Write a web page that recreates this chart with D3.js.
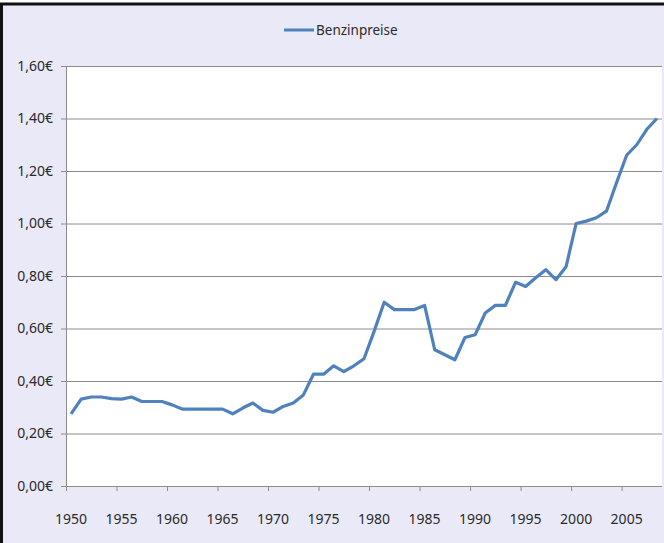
<!DOCTYPE html>
<html lang="de">
  <head>
    <meta charset="utf-8">
    <script src="https://d3js.org/d3.v7.min.js"></script>
    <style>
      body {margin: 0; background: white;}
      text {font-family: "Noto Sans", sans-serif; fill: #2a2a2a;}
    </style>
  </head>
  <body>
    <script type="text/javascript">
      // years and petrol prices in euro
      const years = d3.range(1950, 2009);
      const prices = [
        0.275, 0.331, 0.339, 0.339, 0.333, 0.331, 0.339, 0.322, 0.322, 0.322,
        0.309, 0.293, 0.293, 0.293, 0.293, 0.293, 0.275, 0.297, 0.316, 0.288,
        0.281, 0.303, 0.316, 0.347, 0.426, 0.426, 0.458, 0.436, 0.458, 0.485,
        0.589, 0.700, 0.672, 0.672, 0.672, 0.688, 0.519, 0.500, 0.481, 0.566,
        0.576, 0.659, 0.688, 0.688, 0.776, 0.760, 0.793, 0.824, 0.786, 0.835,
        1.000, 1.009, 1.022, 1.047, 1.155, 1.260, 1.300, 1.359, 1.400
      ];
      const yTicks = [0, 0.2, 0.4, 0.6, 0.8, 1.0, 1.2, 1.4, 1.6];
      const seriesName = "Benzinpreise";

      const w = 664;
      const h = 543;
      const plotLeft = 66, plotRight = 662, plotTop = 66, plotBottom = 486;

      var svg = d3.select("body")
            .append("svg")
            .attr("width", w)
            .attr("height", h);

      // background and frame
      svg.append("rect")
          .attr("x", 0).attr("y", 3)
          .attr("width", w).attr("height", h)
          .attr("fill", "#eae9f8");
      svg.append("line")
          .attr("x1", 0).attr("x2", w).attr("y1", 4).attr("y2", 4)
          .attr("stroke", "#111").attr("stroke-width", 3);
      svg.append("line")
          .attr("x1", 1.5).attr("x2", 1.5).attr("y1", 3).attr("y2", h)
          .attr("stroke", "#111").attr("stroke-width", 3);

      // plot area
      svg.append("rect")
          .attr("x", plotLeft).attr("y", plotTop)
          .attr("width", plotRight - plotLeft).attr("height", plotBottom - plotTop)
          .attr("fill", "white");

      // scales
      var xScale = d3.scaleBand()
                .domain(years)
                .range([plotLeft, plotRight]);
      var yScale = d3.scaleLinear()
                .domain([0, 1.6])
                .range([plotBottom, plotTop]);

      var fmt = function(d) { return d3.format(".2f")(d).replace(".", ",") + "€"; };

      // y axis with gridlines
      var yAxis = d3.axisLeft(yScale)
            .tickValues(yTicks)
            .tickSize(-(plotRight - plotLeft))
            .tickFormat(fmt);
      var gy = svg.append("g")
          .attr("transform", "translate(" + plotLeft + ",0)")
          .call(yAxis);
      gy.select(".domain").remove();
      gy.selectAll(".tick line")
          .attr("x1", -5)
          .attr("stroke", "#8c8c8c");
      gy.selectAll(".tick text")
          .attr("x", -13)
          .attr("font-size", 14);
      svg.append("line")
          .attr("x1", plotLeft + 0.5).attr("x2", plotLeft + 0.5)
          .attr("y1", plotTop).attr("y2", plotBottom)
          .attr("stroke", "#8c8c8c");

      // x axis: ticks on category boundaries, labels at centres
      var labelYears = years.filter(function(d) { return d % 5 === 0; });
      var gx = svg.append("g");
      gx.append("line")
          .attr("x1", plotLeft).attr("x2", plotRight)
          .attr("y1", plotBottom + 0.5).attr("y2", plotBottom + 0.5)
          .attr("stroke", "#8c8c8c");
      gx.selectAll(".xtick")
          .data(labelYears)
          .enter()
          .append("line")
          .attr("x1", function(d) { return xScale(d) + 0.5; })
          .attr("x2", function(d) { return xScale(d) + 0.5; })
          .attr("y1", plotBottom).attr("y2", plotBottom + 5)
          .attr("stroke", "#8c8c8c");
      gx.selectAll(".xlabel")
          .data(labelYears)
          .enter()
          .append("text")
          .attr("x", function(d) { return xScale(d) + xScale.bandwidth() / 2; })
          .attr("y", plotBottom + 38)
          .attr("text-anchor", "middle")
          .attr("font-size", 14)
          .text(function(d) { return d; });

      // price line
      var line = d3.line()
            .x(function(d, i) { return xScale(years[i]) + xScale.bandwidth() / 2; })
            .y(function(d) { return yScale(d); });
      svg.append("path")
          .datum(prices)
          .attr("d", line)
          .attr("fill", "none")
          .attr("stroke", "#4f81bd")
          .attr("stroke-width", 3.2)
          .attr("stroke-linejoin", "round");

      // legend
      svg.append("line")
          .attr("x1", 284).attr("x2", 314)
          .attr("y1", 30).attr("y2", 30)
          .attr("stroke", "#4f81bd")
          .attr("stroke-width", 3);
      svg.append("text")
          .attr("x", 316).attr("y", 35)
          .attr("font-size", 13.5)
          .text(seriesName);
    </script>
  </body>
</html>
